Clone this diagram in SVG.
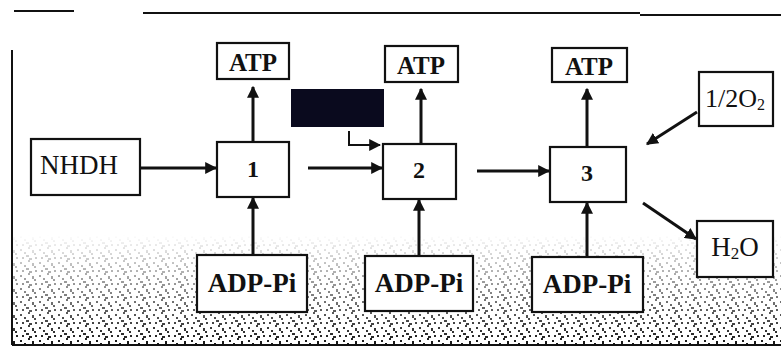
<svg xmlns="http://www.w3.org/2000/svg" width="781" height="347" viewBox="0 0 781 347">
<style>
.box{fill:#fff;stroke:#111;stroke-width:2.2}
.t{font-family:"Liberation Serif","Times New Roman",serif;fill:#111;text-anchor:middle;dominant-baseline:central}
.b{font-weight:bold}
.c{stroke:#111;stroke-width:3;fill:none}
.frame{stroke:#111;stroke-width:2;fill:none}
</style>
<defs>
<marker id="ah" viewBox="0 0 10 10" refX="9" refY="5" markerWidth="4" markerHeight="4" orient="auto" markerUnits="strokeWidth">
<path d="M0,0 L10,5 L0,10 z" fill="#111"/>
</marker>
<marker id="ahs" viewBox="0 0 10 10" refX="9" refY="5" markerWidth="6" markerHeight="6" orient="auto" markerUnits="strokeWidth">
<path d="M0,0 L10,5 L0,10 z" fill="#111"/>
</marker>
<pattern id="spk" width="19" height="13" patternUnits="userSpaceOnUse">
<rect x="1" y="2" width="2" height="2" fill="#111"/>
<rect x="7" y="8" width="3" height="2" fill="#111"/>
<rect x="13" y="3" width="2" height="3" fill="#111"/>
<rect x="16" y="10" width="2" height="2" fill="#111"/>
<rect x="3" y="10" width="2" height="2" fill="#111"/>
<rect x="9" y="0" width="2" height="2" fill="#111"/>
<rect x="15" y="6" width="2" height="2" fill="#111"/>
<rect x="10" y="11" width="3" height="2" fill="#111"/>
<rect x="5" y="5" width="2" height="2" fill="#111"/>
</pattern>
<linearGradient id="fade" x1="0" y1="0" x2="0" y2="1">
<stop offset="0" stop-color="#fff" stop-opacity="0"/>
<stop offset="1" stop-color="#fff" stop-opacity="1"/>
</linearGradient>
<mask id="m"><rect x="0" y="235" width="781" height="112" fill="url(#fade)"/></mask>
</defs>
<rect width="781" height="347" fill="#fff"/>
<g id="speckle" mask="url(#m)"><rect x="12" y="235" width="769" height="110" fill="url(#spk)"/></g>
<g id="frame">
<line class="frame" x1="14" y1="11" x2="74" y2="11"/>
<line class="frame" x1="143" y1="13" x2="640" y2="13"/>
<line class="frame" x1="640" y1="15" x2="781" y2="15"/>
<line class="frame" x1="12" y1="50" x2="12" y2="345"/>
<line class="frame" x1="12" y1="345" x2="781" y2="345"/>
</g>
<g id="connectors">
<line class="c" x1="141" y1="168" x2="216" y2="168" marker-end="url(#ah)"/>
<line class="c" x1="308" y1="168" x2="382" y2="168" marker-end="url(#ah)"/>
<line class="c" x1="477" y1="171" x2="549" y2="171" marker-end="url(#ah)"/>
<line class="c" x1="253" y1="142" x2="253" y2="87" marker-end="url(#ah)"/>
<line class="c" x1="421" y1="144" x2="421" y2="89" marker-end="url(#ah)"/>
<line class="c" x1="587" y1="147" x2="587" y2="89" marker-end="url(#ah)"/>
<line class="c" x1="253" y1="255" x2="253" y2="198" marker-end="url(#ah)"/>
<line class="c" x1="419" y1="256" x2="419" y2="200" marker-end="url(#ah)"/>
<line class="c" x1="587" y1="257" x2="587" y2="203" marker-end="url(#ah)"/>
<line class="c" x1="697" y1="112" x2="647" y2="144" marker-end="url(#ah)"/>
<line class="c" x1="643" y1="203" x2="696" y2="239" marker-end="url(#ah)"/>
<path d="M349,131 V145 H380" stroke="#111" stroke-width="2" fill="none" marker-end="url(#ahs)"/>
</g>
<g id="nhdh"><rect class="box" x="31" y="139" width="109" height="56"/><text class="t" x="79" y="165" font-size="27">NHDH</text></g>
<g id="n1"><rect class="box" x="217" y="142" width="72" height="55"/><text class="t b" x="253" y="169" font-size="24">1</text></g>
<g id="n2"><rect class="box" x="383" y="144" width="73" height="55"/><text class="t b" x="419" y="170" font-size="24">2</text></g>
<g id="n3"><rect class="box" x="550" y="147" width="76" height="55"/><text class="t b" x="587" y="173" font-size="24">3</text></g>
<g id="atp1"><rect class="box" x="217" y="43" width="72" height="36"/><text class="t b" x="253" y="62" font-size="25">ATP</text></g>
<g id="atp2"><rect class="box" x="385" y="46" width="73" height="36"/><text class="t b" x="421" y="65" font-size="25">ATP</text></g>
<g id="atp3"><rect class="box" x="552" y="48" width="75" height="34"/><text class="t b" x="589" y="66" font-size="25">ATP</text></g>
<g id="blackbox"><rect x="291" y="89" width="93" height="38" fill="#0a0a1e"/></g>
<g id="o2"><rect class="box" x="699" y="72" width="74" height="54"/><text class="t" x="735" y="98" font-size="26">1/2O<tspan font-size="16" dy="6">2</tspan></text></g>
<g id="h2o"><rect class="box" x="697" y="221" width="76" height="56"/><text class="t" x="735" y="247" font-size="27">H<tspan font-size="17" dy="6">2</tspan><tspan dy="-6">O</tspan></text></g>
<g id="adp1"><rect class="box" x="197" y="255" width="110" height="57"/><text class="t b" x="252" y="283" font-size="27">ADP-Pi</text></g>
<g id="adp2"><rect class="box" x="365" y="256" width="108" height="55"/><text class="t b" x="419" y="283" font-size="27">ADP-Pi</text></g>
<g id="adp3"><rect class="box" x="532" y="257" width="111" height="55"/><text class="t b" x="587" y="284" font-size="27">ADP-Pi</text></g>
</svg>
